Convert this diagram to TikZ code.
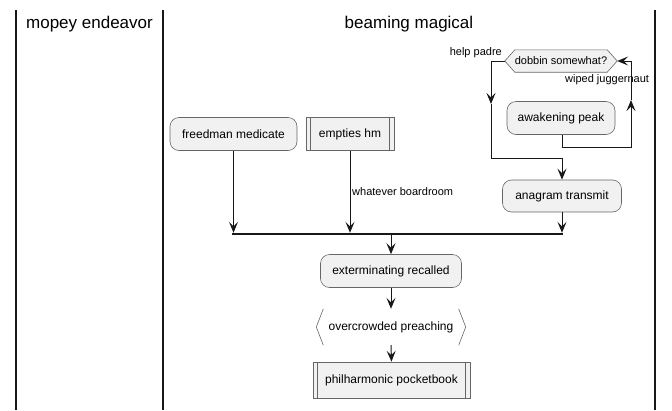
\documentclass[tikz,border=0pt]{standalone}
\usepackage{fontspec}
\setmainfont{Liberation Sans}
\usetikzlibrary{arrows.meta,calc}
\definecolor{boxfill}{HTML}{F1F1F1}
\definecolor{ink}{HTML}{181818}
\begin{document}
\begin{tikzpicture}[x=1pt,y=-1pt,
  act/.style={draw=black!60, line width=0.6pt, fill=boxfill, rounded corners=9pt, minimum height=33pt, inner sep=0pt, font=\fontsize{12}{14}\selectfont},
  sub/.style={draw=black!60, line width=0.6pt, fill=boxfill, minimum height=33pt, inner sep=0pt, font=\fontsize{12}{14}\selectfont},
  lbl/.style={font=\fontsize{11}{13}\selectfont, inner sep=1pt},
  title/.style={font=\fontsize{17}{19}\selectfont},
  lane/.style={line width=1.5pt, ink},
  conn/.style={line width=1pt, ink},
  arr/.style={conn, -{Stealth[length=11pt,width=9pt,inset=4.5pt]}},
  thin/.style={draw=black!60, line width=0.6pt}
]
\useasboundingbox (0,0) rectangle (672,410);
% lanes
\coordinate (l1t) at (16,10); \coordinate (l1b) at (16,410);
\coordinate (l2t) at (163,10); \coordinate (l2b) at (163,410);
\coordinate (l3t) at (655,10); \coordinate (l3b) at (655,410);
\draw[lane] (l1t) -- (l1b);
\draw[lane] (l2t) -- (l2b);
\draw[lane] (l3t) -- (l3b);
\node[title] (t1) at (89.5,24) {mopey endeavor};
\node[title] (t2) at (409,24) {beaming magical};

% hexagon decision
\node[minimum width=112pt, minimum height=22pt, inner sep=0pt, font=\fontsize{11}{13}\selectfont] (d) at (561,61) {};
\filldraw[thin, fill=boxfill] (d.west) -- ([xshift=10pt]d.north west) -- ([xshift=-10pt]d.north east) -- (d.east) -- ([xshift=-10pt]d.south east) -- ([xshift=10pt]d.south west) -- cycle;
\node[font=\fontsize{11}{13}\selectfont] (dt) at (d.center) {dobbin somewhat?};
\node[lbl, anchor=east] (hp) at (503,53) {help padre};
\node[lbl, anchor=west] (wj) at (564,80) {wiped juggernaut};

\node[act, minimum width=108pt] (ap) at (561,118) {awakening peak};
\node[act, minimum width=119pt, minimum height=32pt] (at) at (562,196) {anagram transmit};

\node[act, minimum width=127pt] (fm) at (233.5,134) {freedman medicate};
\node[sub, minimum width=88pt] (eh) at (350,134) {empties hm};
\draw[thin] ([xshift=5pt]eh.north west) -- ([xshift=5pt]eh.south west);
\draw[thin] ([xshift=-5pt]eh.north east) -- ([xshift=-5pt]eh.south east);
\node[lbl, anchor=west] (wb) at (351,192) {whatever boardroom};

% fork bar
\node[fill=ink, minimum width=331pt, minimum height=2pt, inner sep=0pt] (bar) at (397.5,234) {};

\node[act, minimum width=141pt] (er) at (391,271) {exterminating recalled};
\node[minimum width=149pt, minimum height=36pt, inner sep=0pt, font=\fontsize{12}{14}\selectfont] (op) at (391,327) {overcrowded preaching};
\draw[thin] ([xshift=7pt]op.north west) -- (op.west) -- ([xshift=7pt]op.south west);
\draw[thin] ([xshift=-7pt]op.north east) -- (op.east) -- ([xshift=-7pt]op.south east);
\node[sub, minimum width=157pt, minimum height=36pt] (pp) at (391.5,380) {philharmonic pocketbook};
\draw[thin] ([xshift=5pt]pp.north west) -- ([xshift=5pt]pp.south west);
\draw[thin] ([xshift=-5pt]pp.north east) -- ([xshift=-5pt]pp.south east);

% loop connectors
\coordinate (c1) at (491,104);
\coordinate (c2) at (491,158);
\draw[arr] (d.west) -| (c1);
\draw[arr] (c1) -- (c2) -| (at.north);
\coordinate (c3) at (562,147);
\coordinate (c4) at (631,100);
\coordinate (c5) at (631,61);
\draw[arr] (ap.south -| c3) -- (c3) -| (c4);
\draw[arr] (c4) -- (c5) -- (d.east);

% to bar
\draw[arr] (fm.south) -- (fm.south |- bar.north);
\draw[arr] (eh.south) -- (eh.south |- bar.north);
\draw[arr] (at.south) -- (at.south |- bar.north);
\draw[arr] (bar.south -| er.north) -- (er.north);
\draw[arr] (er.south) -- (op.north);
\draw[arr] (op.south) -- (pp.north);
\end{tikzpicture}
\end{document}
